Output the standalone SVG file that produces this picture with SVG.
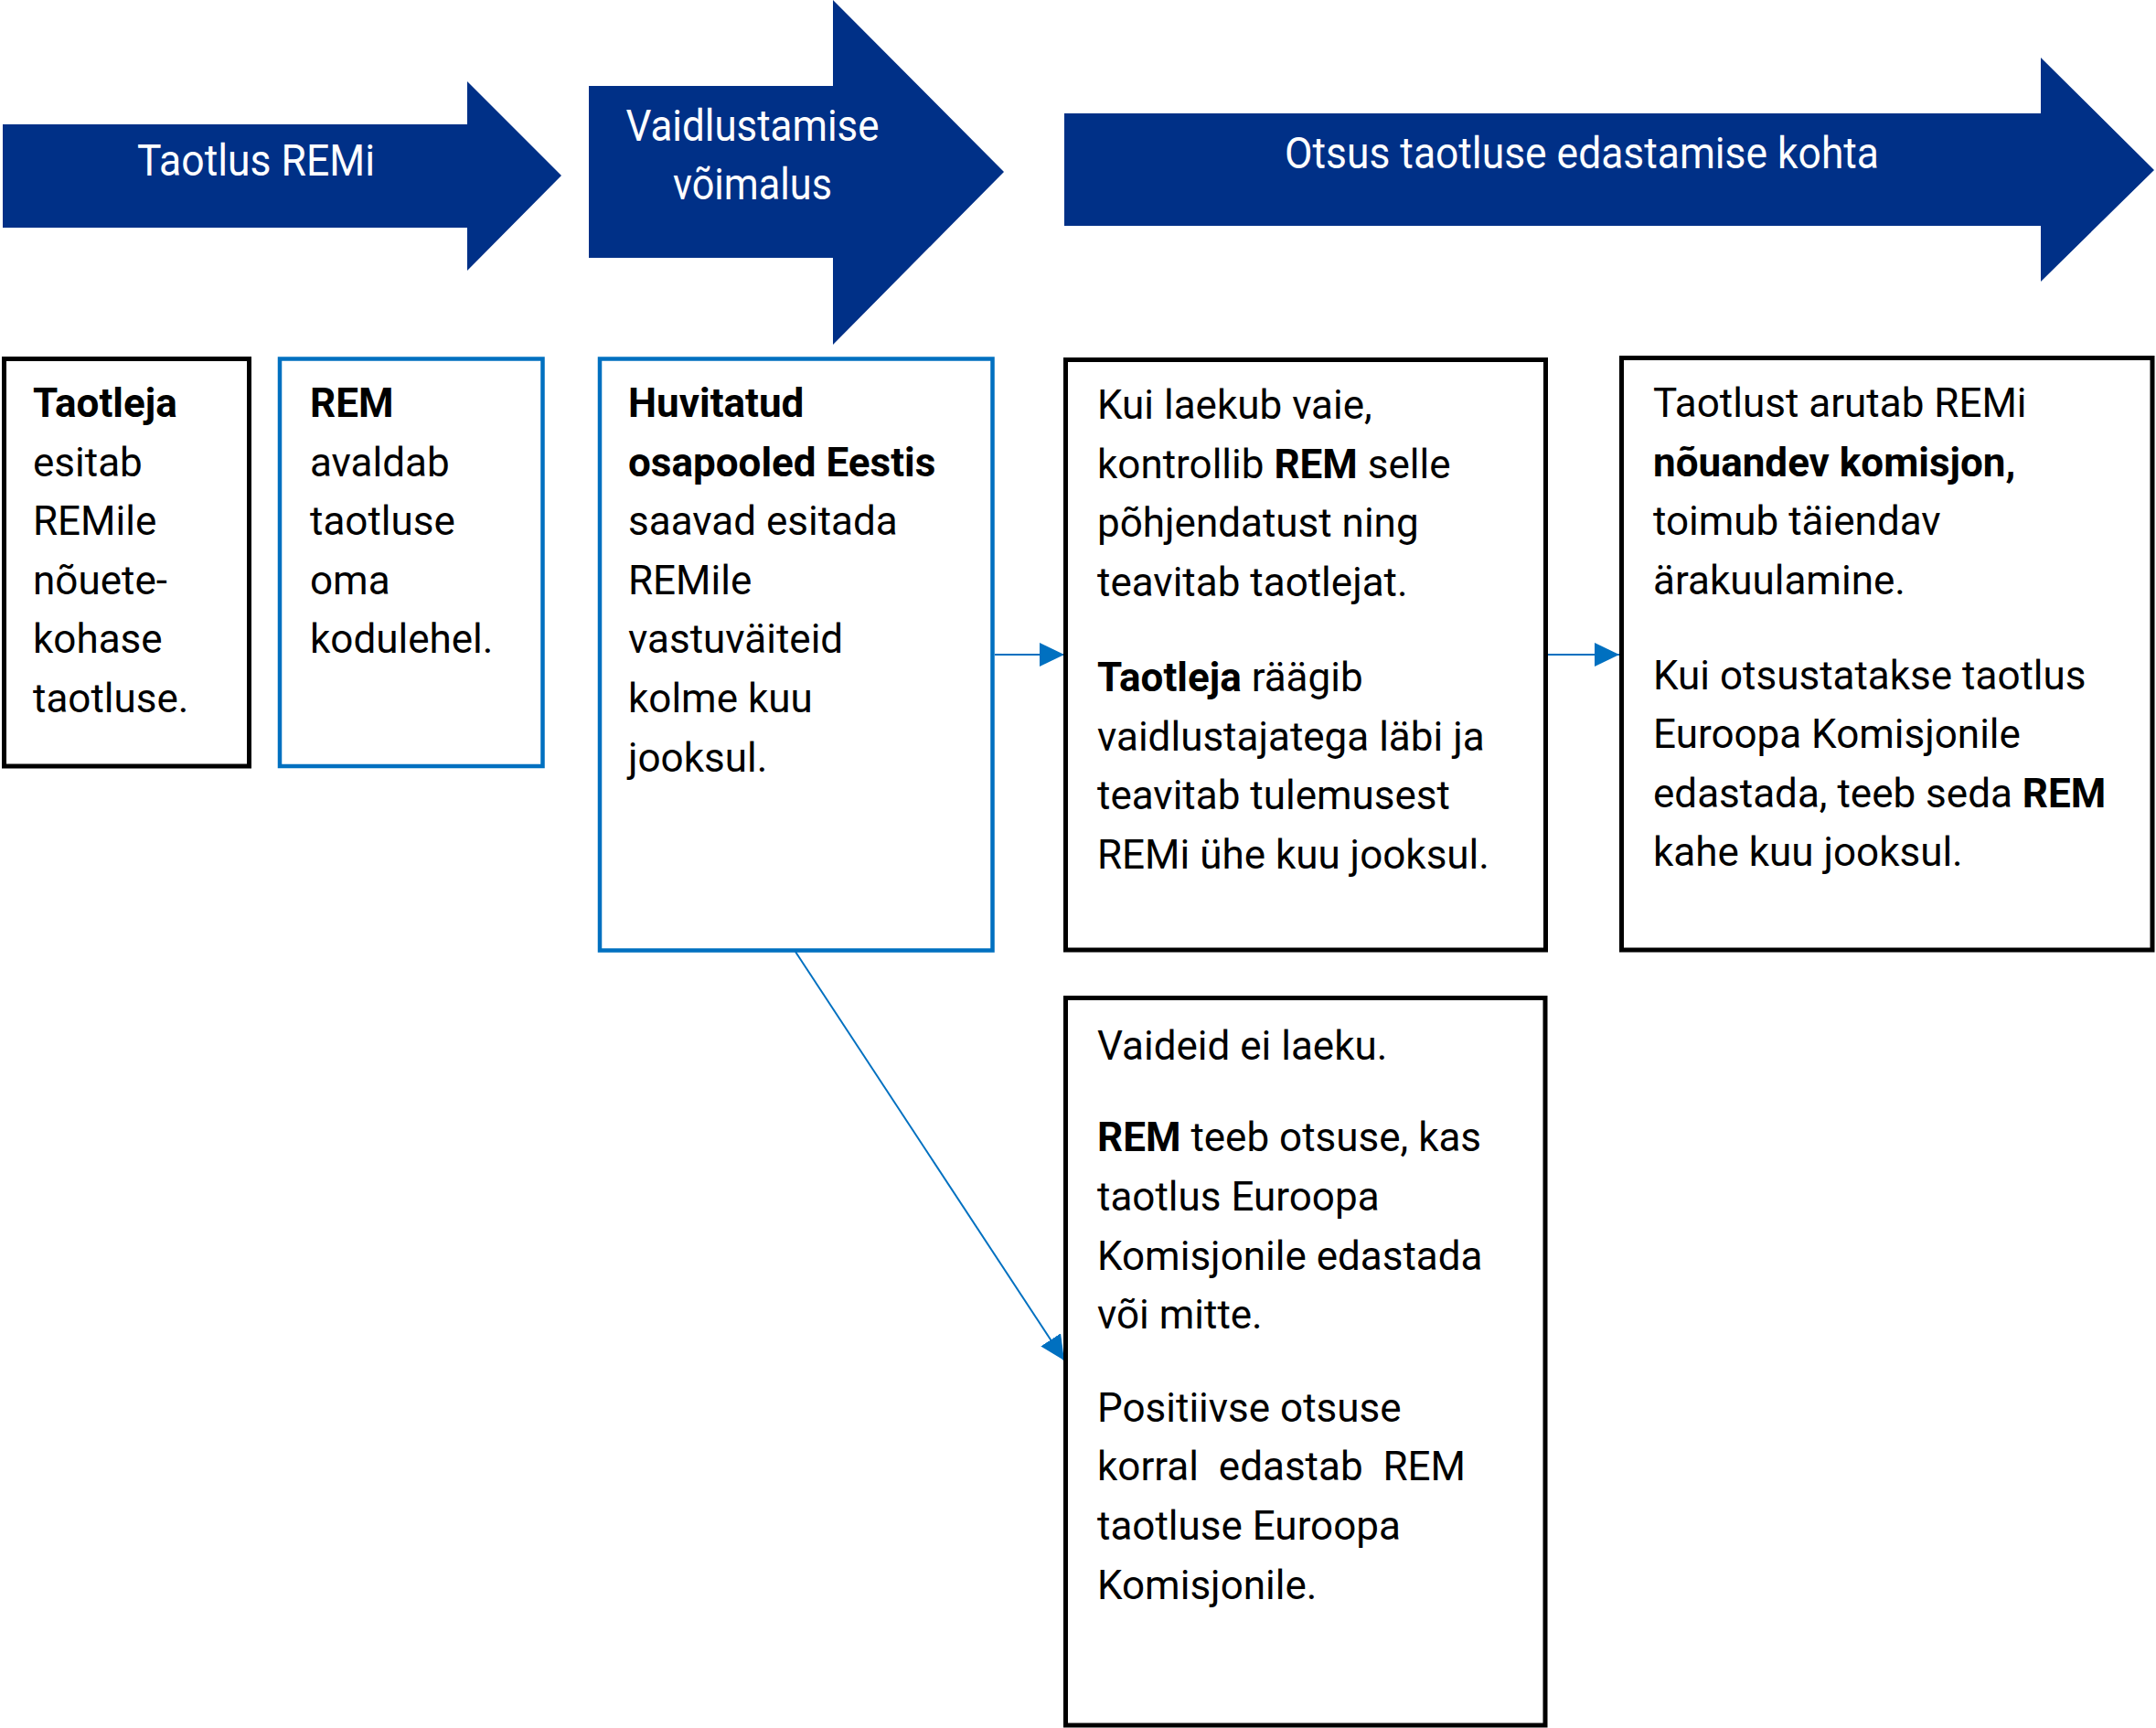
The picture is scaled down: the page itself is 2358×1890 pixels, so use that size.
<svg xmlns="http://www.w3.org/2000/svg" width="2358" height="1890" viewBox="0 0 2358 1890">
<style>
.bg{fill:#ffffff}
.phase{fill:#003087}
.ptxt{font-family:Roboto,"Liberation Sans",sans-serif;font-size:49px;fill:#ffffff;text-anchor:middle}
.boxk{fill:#ffffff;stroke:#000000;stroke-width:5}
.boxb{fill:#ffffff;stroke:#0070C0;stroke-width:4.5}
.t{font-family:Roboto,"Liberation Sans",sans-serif;font-size:44px;fill:#000000}
.b{font-weight:bold}
.conn{stroke:#0070C0;stroke-width:2;fill:none}
</style>
<defs>
<marker id="ah" markerUnits="userSpaceOnUse" markerWidth="28" markerHeight="26" refX="27" refY="13" orient="auto" viewBox="0 0 28 26">
<path d="M0,0 L27,13 L0,26 Z" fill="#0070C0"/>
</marker>
</defs>
<rect class="bg" x="0" y="0" width="2358" height="1890"/>

<g id="phase1">
<polygon class="phase" points="3,136 511,136 511,89 614,192 511,296 511,249 3,249"/>
<text class="ptxt" x="280" y="192" textLength="260" lengthAdjust="spacingAndGlyphs">Taotlus REMi</text>
</g>
<g id="phase2">
<polygon class="phase" points="644,94 911,94 911,0 1098,188 911,377 911,282 644,282"/>
<text class="ptxt" x="823" y="154" textLength="277" lengthAdjust="spacingAndGlyphs">Vaidlustamise</text>
<text class="ptxt" x="823" y="218" textLength="174" lengthAdjust="spacingAndGlyphs">võimalus</text>
</g>
<g id="phase3">
<polygon class="phase" points="1164,124 2232,124 2232,63 2356,186 2232,308 2232,247 1164,247"/>
<text class="ptxt" x="1730" y="184" textLength="650" lengthAdjust="spacingAndGlyphs">Otsus taotluse edastamise kohta</text>
</g>

<g id="connectors">
<line class="conn" x1="1088" y1="716" x2="1164" y2="716" marker-end="url(#ah)"/>
<line class="conn" x1="1693" y1="716" x2="1771" y2="716" marker-end="url(#ah)"/>
<line class="conn" x1="870" y1="1041" x2="1164" y2="1488" marker-end="url(#ah)"/>
</g>

<g id="box1">
<rect class="boxk" x="4.5" y="392.5" width="268" height="445.5"/>
<text class="t" x="36" y="456"><tspan class="b">Taotleja</tspan></text>
<text class="t" x="36" y="520.6">esitab</text>
<text class="t" x="36" y="585.2">REMile</text>
<text class="t" x="36" y="649.8">nõuete-</text>
<text class="t" x="36" y="714.4">kohase</text>
<text class="t" x="36" y="779">taotluse.</text>
</g>

<g id="box2">
<rect class="boxb" x="306" y="392.5" width="287.5" height="445.5"/>
<text class="t" x="339" y="456"><tspan class="b">REM</tspan></text>
<text class="t" x="339" y="520.6">avaldab</text>
<text class="t" x="339" y="585.2">taotluse</text>
<text class="t" x="339" y="649.8">oma</text>
<text class="t" x="339" y="714.4">kodulehel.</text>
</g>

<g id="box3">
<rect class="boxb" x="656" y="392.5" width="429.5" height="647"/>
<text class="t" x="687" y="456"><tspan class="b">Huvitatud</tspan></text>
<text class="t" x="687" y="520.6"><tspan class="b">osapooled Eestis</tspan></text>
<text class="t" x="687" y="585.2">saavad esitada</text>
<text class="t" x="687" y="649.8">REMile</text>
<text class="t" x="687" y="714.4">vastuväiteid</text>
<text class="t" x="687" y="779">kolme kuu</text>
<text class="t" x="687" y="843.6">jooksul.</text>
</g>

<g id="box4">
<rect class="boxk" x="1165.5" y="393.5" width="525" height="645.5"/>
<text class="t" x="1200" y="458">Kui laekub vaie,</text>
<text class="t" x="1200" y="522.5">kontrollib <tspan class="b">REM</tspan> selle</text>
<text class="t" x="1200" y="587">põhjendatust ning</text>
<text class="t" x="1200" y="651.5">teavitab taotlejat.</text>
<text class="t" x="1200" y="756"><tspan class="b">Taotleja</tspan> räägib</text>
<text class="t" x="1200" y="820.5">vaidlustajatega läbi ja</text>
<text class="t" x="1200" y="885">teavitab tulemusest</text>
<text class="t" x="1200" y="949.5">REMi ühe kuu jooksul.</text>
</g>

<g id="box5">
<rect class="boxk" x="1773.5" y="391.5" width="580.5" height="647.5"/>
<text class="t" x="1808" y="456">Taotlust arutab REMi</text>
<text class="t" x="1808" y="520.5"><tspan class="b">nõuandev komisjon,</tspan></text>
<text class="t" x="1808" y="585">toimub täiendav</text>
<text class="t" x="1808" y="649.5">ärakuulamine.</text>
<text class="t" x="1808" y="753.5">Kui otsustatakse taotlus</text>
<text class="t" x="1808" y="818">Euroopa Komisjonile</text>
<text class="t" x="1808" y="882.5">edastada, teeb seda <tspan class="b">REM</tspan></text>
<text class="t" x="1808" y="947">kahe kuu jooksul.</text>
</g>

<g id="box6">
<rect class="boxk" x="1165.5" y="1091.5" width="524.5" height="795.5"/>
<text class="t" x="1200" y="1159">Vaideid ei laeku.</text>
<text class="t" x="1200" y="1259"><tspan class="b">REM</tspan> teeb otsuse, kas</text>
<text class="t" x="1200" y="1324">taotlus Euroopa</text>
<text class="t" x="1200" y="1389">Komisjonile edastada</text>
<text class="t" x="1200" y="1453">või mitte.</text>
<text class="t" x="1200" y="1555">Positiivse otsuse</text>
<text class="t" x="1200" y="1619" xml:space="preserve">korral  edastab  REM</text>
<text class="t" x="1200" y="1684">taotluse Euroopa</text>
<text class="t" x="1200" y="1749">Komisjonile.</text>
</g>
</svg>
